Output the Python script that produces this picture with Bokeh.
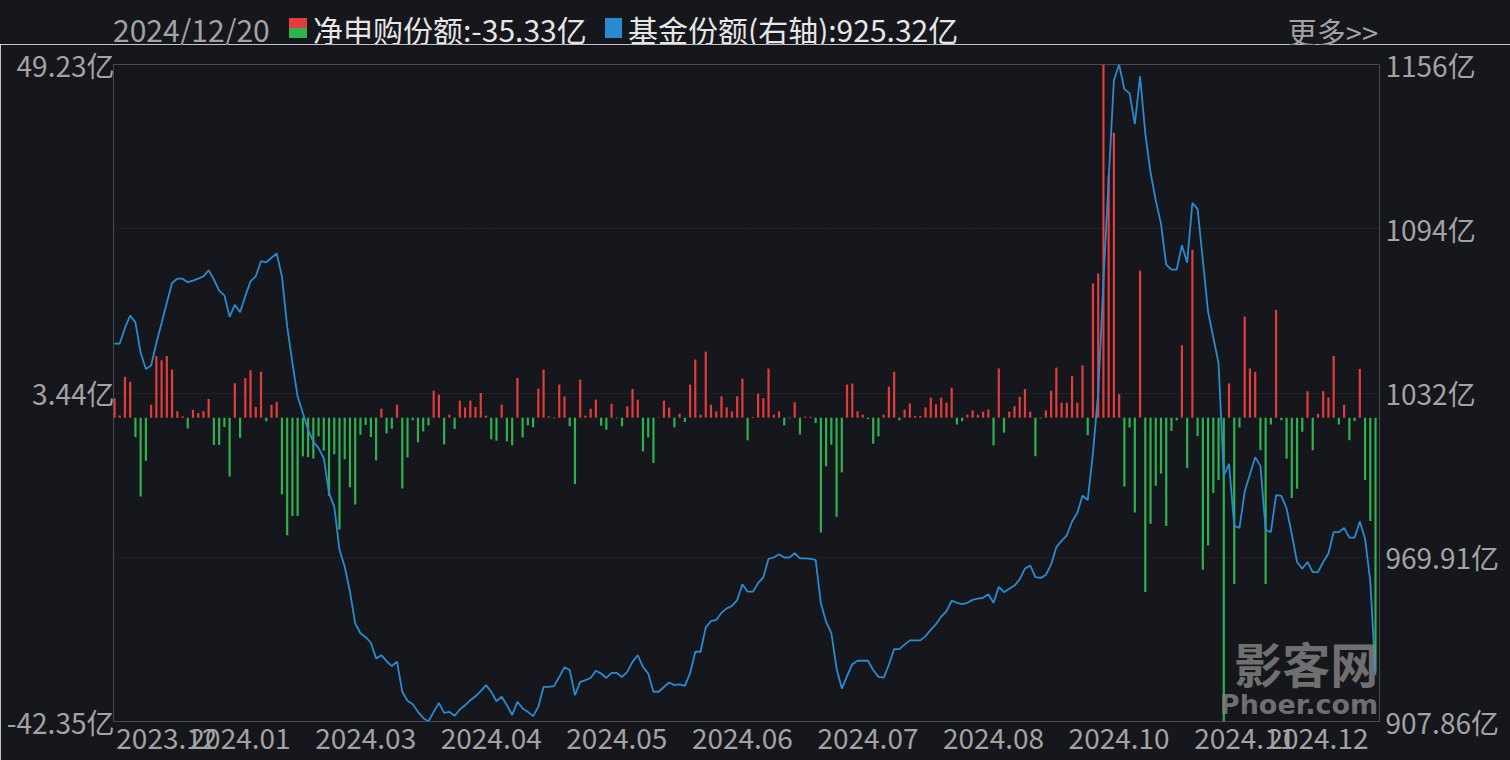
import numpy as np
from bokeh.plotting import figure
from bokeh.models import Range1d, LinearAxis, FixedTicker, ColumnDataSource, Label, Div
from bokeh.layouts import column
from bokeh.embed import file_html
from bokeh.resources import INLINE

# ---------------- data (unit: 亿) ----------------
latest_date = "2024/12/20"
net_name = "净申购份额"
share_name = "基金份额(右轴)"
more_text = "更多>>"
watermark_cn = "影客网"
watermark_en = "Phoer.com"

net_purchase = [
    2.7, 0.3, 5.7, 5.0, -2.7, -11.0, -6.0, 1.8, 8.6, 8.0,
    8.6, 6.7, 0.9, 0.2, -1.5, 1.1, 0.65, 0.9, 2.6, -3.8,
    -3.8, -1.3, -8.2, 4.8, -2.8, 5.5, 6.6, 1.5, 6.4, -0.5,
    1.8, 2.2, -10.7, -16.4, -13.7, -13.7, -5.4, -5.5, -5.7, -2.6,
    -4.6, -10.9, -5.1, -15.6, -5.8, -9.7, -12.1, -2.4, -1.0, -2.7,
    -5.96, 1.26, -2.19, -1.54, 1.81, -9.87, -5.54, -0.37, -3.44, -1.91,
    -1.07, 3.77, 3.21, -3.72, 0.42, -1.58, 2.37, 1.44, 2.37, 1.49,
    3.44, 0.28, -3.02, -3.21, 1.81, -3.30, -3.86, 5.54, -2.75, -1.07,
    -1.35, 4.05, 6.70, 0.19, -0.10, 4.61, 2.98, -1.21, -9.26, 5.30,
    0.28, 1.26, 2.51, -1.12, -1.68, 1.95, -0.10, -1.21,
    1.58, 4.00, 2.51, -4.70, -2.75, -6.33, 0.05, 2.37, 1.40, -1.35,
    0.56, -0.60, 4.61, 8.10, 0.42, 9.21, 1.81, 0.88, 2.98, 1.44,
    0.88, 2.98, 5.44, -3.16, 0.10, 3.35, 2.70, 6.84, 0.42, 0.88,
    -1.07, -0.10, 2.14, -2.37, 0.14, 0.14, -0.74, -16.0, -6.79, -3.77,
    -13.8, -7.63, 4.61, 4.75, 0.88, 0.42, -0.20, -3.63, -2.60,
    0.42, 4.30, 6.40, -0.36, 1.13, 1.97, 0.24, 0.24, 1.43, 2.80,
    1.85, 2.80, 2.09, 4.18, -0.95, -0.48, 0.42, 1.01, 0.42, 0.84,
    1.13, -3.88, 6.86, -2.09, 0.84, 1.61, 2.92, 4.00, 0.84, -5.37,
    -0.10, 1.01, 3.76, 6.98, 2.09, 2.09, 5.79, 2.09, 7.28, -2.45,
    18.7, 20.1, 49.23, 33.8, 39.7, 3.28, -9.6, -1.37, -13.2,
    20.5, -24.3, -14.8, -9.5, -7.8, -15.1, -1.85, -0.36, 10.1, -7.0,
    23.4, -2.57, -21.2, -17.8, -10.5, -8.7, -42.35, 4.77, -23.2, -1.37,
    14.1, 6.86, 6.38, -4.53, -23.2, -0.95, 15.0, -0.36, -5.73, -11.2,
    -9.9, -1.97, 3.70, -4.53, 0.54, 3.70, 2.80, 8.59, -0.95, 1.79,
    -3.16, -0.48, 6.80, -8.7, -14.4, -35.33,
]

fund_share = [
    1050.6, 1050.6, 1056.5, 1061.2, 1058.6, 1047.1, 1041.0, 1042.3, 1050.8, 1058.4,
    1066.0, 1073.5, 1075.1, 1075.1, 1073.8, 1074.4, 1075.1, 1076.0, 1078.3, 1074.8,
    1070.6, 1068.8, 1060.7, 1065.3, 1062.4, 1068.5, 1074.1, 1076.0, 1081.7, 1081.3,
    1083.0, 1084.6, 1076.0, 1057.1, 1043.3, 1030.6, 1024.4, 1018.0, 1013.6, 1011.1,
    1007.3, 994.1, 989.0, 972.7, 966.3, 956.9, 944.9, 941.2, 939.7, 937.6,
    931.7, 932.9, 930.7, 928.8, 930.4, 919.1, 915.7, 914.4, 911.5, 909.2,
    907.86, 911.5, 914.9, 911.1, 911.5, 910.0, 912.4, 914.0, 915.9, 917.4,
    919.3, 921.6, 919.1, 915.5, 917.2, 914.0, 910.3, 915.3, 912.8, 911.5,
    909.9, 913.4, 920.9, 920.9, 921.2, 924.7, 928.3, 927.3, 917.8, 922.8,
    923.5, 924.3, 927.0, 926.0, 924.3, 926.2, 926.2, 924.7,
    926.6, 930.4, 932.9, 928.5, 926.0, 919.1, 919.1, 920.9, 922.6, 921.6,
    921.9, 921.3, 926.0, 934.2, 934.2, 943.4, 945.8, 946.2, 948.9, 950.6,
    951.5, 953.7, 959.7, 956.9, 956.9, 960.1, 962.3, 969.3, 969.8, 971.0,
    969.8, 969.8, 971.4, 969.5, 969.5, 969.3, 968.9, 952.5, 945.5, 941.2,
    927.9, 920.3, 925.0, 929.5, 930.8, 930.8, 930.8, 927.3, 924.7,
    924.4, 929.3, 935.2, 935.2, 936.9, 938.5, 938.5, 938.5, 940.1, 942.5,
    944.6, 947.5, 949.5, 953.5, 952.7, 952.2, 952.7, 953.8, 954.3, 954.6,
    955.9, 952.7, 958.7, 956.7, 958.0, 959.2, 961.6, 965.6, 966.8, 962.4,
    962.1, 963.2, 967.2, 973.7, 976.1, 978.2, 983.4, 986.6, 993.1, 991.5,
    1009.3, 1032.0, 1074.0, 1112.7, 1150.0, 1156.0, 1146.7, 1145.1, 1133.5,
    1151.5, 1130.0, 1115.2, 1104.7, 1095.8, 1080.4, 1078.5, 1078.5, 1087.7, 1081.2,
    1103.8, 1101.4, 1082.0, 1062.6, 1052.9, 1043.2, 1000.6, 1005.2, 981.8, 981.0,
    994.7, 1001.2, 1007.7, 1004.4, 980.2, 979.4, 993.4, 993.1, 988.3, 978.6,
    968.1, 965.6, 968.1, 964.3, 964.3, 968.1, 971.3, 979.4, 979.4, 981.0,
    977.3, 977.3, 983.4, 976.9, 960.8, 925.32,
]

# month labels of the date axis (one every 24 trading days; edge labels kept inside)
x_tick_index = [10, 24, 48, 72, 96, 120, 144, 168, 192, 216, 230]
x_tick_labels = ["2023.12", "2024.01", "2024.03", "2024.04", "2024.05", "2024.06",
                 "2024.07", "2024.08", "2024.10", "2024.11", "2024.12"]
left_tick_labels = ["-42.35亿", "3.44亿", "49.23亿"]
right_tick_labels = ["907.86亿", "969.91亿", "1032亿", "1094亿", "1156亿"]

# ---------------- styles ----------------
BG = "#15171c"
RED = "#e23d3d"
GREEN = "#2db24e"
BLUE = "#2a8ad0"
GRID = "#3e4148"
LABEL = "#a3a3a3"
TEXT = "#e6e6e6"
FONT = "Noto Sans CJK SC"

n = len(net_purchase)
idx = list(range(n))
net_min, net_max = min(net_purchase), max(net_purchase)
sh_min, sh_max = min(fund_share), max(fund_share)
left_ticks = [net_min, (net_min + net_max) / 2, net_max]
right_ticks = list(np.linspace(sh_min, sh_max, 5))

W, H = 1510, 760
HEAD_H = 44

# ---------------- header (date + legend row) ----------------
def span(style, content=""):
    return f'<span style="position:absolute;{style}">{content}</span>'

header_html = (
    f'<div style="position:relative;width:{W}px;height:{HEAD_H}px;background:{BG};'
    f"font-family:'{FONT}',sans-serif;font-size:30px;white-space:nowrap;\">"
    + span(f"left:113px;top:14px;line-height:30px;color:{LABEL};", latest_date)
    + span(f"left:289px;top:18px;width:18px;height:10px;background:{RED};")
    + span(f"left:289px;top:28px;width:18px;height:10px;background:{GREEN};")
    + span(f"left:313px;top:14px;line-height:30px;color:{TEXT};",
           f"{net_name}:{net_purchase[-1]:.2f}亿")
    + span(f"left:605px;top:18px;width:17px;height:20px;background:{BLUE};")
    + span(f"left:628px;top:14px;line-height:30px;color:{TEXT};",
           f"{share_name}:{fund_share[-1]:.2f}亿")
    + span(f"right:132px;top:17px;line-height:29px;color:{LABEL};font-size:29px;",
           more_text.replace(">", "&gt;"))
    + "</div>"
)
header = Div(text=header_html, width=W, height=HEAD_H, margin=0,
             styles={"background-color": BG})

# ---------------- main chart ----------------
p = figure(width=W, height=H - HEAD_H,
           x_range=Range1d(-0.19, n - 1 + 0.76),
           y_range=Range1d(net_min, net_max),
           toolbar_location=None, output_backend="svg",
           min_border_left=113, min_border_right=131, min_border_top=64 - HEAD_H,
           min_border_bottom=39,
           background_fill_color=BG, border_fill_color=BG,
           outline_line_color="#474a52", outline_line_width=1, margin=0)
p.extra_y_ranges = {"share": Range1d(sh_min, sh_max)}

src = ColumnDataSource(dict(
    x=idx, net=net_purchase,
    color=[RED if v >= 0 else GREEN for v in net_purchase],
))
p.vbar(x="x", top="net", bottom=0, width=0.42, fill_color="color", line_color=None, source=src)
p.line(idx, fund_share, y_range_name="share", line_color=BLUE, line_width=1.8)

# x axis
xa = p.xaxis[0]
xa.ticker = FixedTicker(ticks=x_tick_index)
xa.major_label_overrides = dict(zip(x_tick_index, x_tick_labels))
# left axis
ya = p.yaxis[0]
ya.ticker = FixedTicker(ticks=left_ticks)
ya.major_label_overrides = dict(zip(left_ticks, left_tick_labels))
# right axis
ra = LinearAxis(y_range_name="share", ticker=FixedTicker(ticks=right_ticks),
                major_label_overrides=dict(zip(right_ticks, right_tick_labels)))
p.add_layout(ra, "right")

for ax, fs, so in ((xa, "28px", 0), (ya, "28px", -7), (ra, "28px", 0)):
    ax.axis_line_color = None
    ax.major_tick_line_color = None
    ax.minor_tick_line_color = None
    ax.major_label_text_color = LABEL
    ax.major_label_text_font = FONT
    ax.major_label_text_font_size = fs
    ax.major_label_standoff = so

p.xgrid.visible = False
g = p.ygrid[0]
g.ticker = FixedTicker(ticks=right_ticks)
g.y_range_name = "share"
g.grid_line_color = GRID
g.grid_line_dash = "1 3"
g.grid_line_width = 1

# watermark (kept inside the plot area)
p.add_layout(Label(x=n - 1 + 0.5, y=-34.0, text=watermark_cn, text_align="right",
                   text_baseline="middle", text_font=FONT, text_font_size="48px",
                   text_font_style="bold", text_color="#808080", text_alpha=0.85))
p.add_layout(Label(x=n - 1 + 0.5, y=-40.0, text=watermark_en, text_align="right",
                   text_baseline="middle", text_font="DejaVu Sans", text_font_size="27px",
                   text_font_style="bold", text_color="#808080", text_alpha=0.85))

layout = column(header, p, spacing=0)
html = file_html(layout, INLINE)
html = html.replace("<body>", f'<body style="background-color:{BG};">', 1)
open("out.html", "w").write(html)
